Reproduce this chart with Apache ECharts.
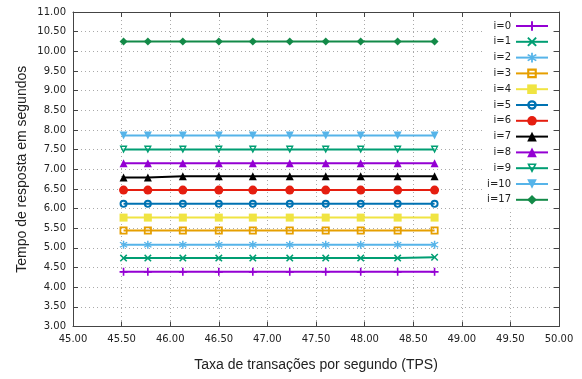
<!DOCTYPE html>
<html><head><meta charset="utf-8">
<script src="https://cdn.jsdelivr.net/npm/echarts@6/dist/echarts.min.js"></script>
<style>html,body{margin:0;padding:0;background:#fff}#c{width:582px;height:379px}</style>
</head><body><div id="c"></div>
<script>
const tps = [45.52, 45.77, 46.13, 46.50, 46.85, 47.23, 47.60, 47.96, 48.34, 48.72];
const seriesNames = ['i=0','i=1','i=2','i=3','i=4','i=5','i=6','i=7','i=8','i=9','i=10','i=17'];
const i0  = [4.39, 4.39, 4.39, 4.39, 4.39, 4.39, 4.39, 4.39, 4.39, 4.39];
const i1  = [4.74, 4.74, 4.74, 4.74, 4.74, 4.74, 4.74, 4.74, 4.74, 4.76];
const i2  = [5.08, 5.08, 5.08, 5.08, 5.08, 5.08, 5.08, 5.08, 5.08, 5.08];
const i3  = [5.44, 5.44, 5.44, 5.44, 5.44, 5.44, 5.44, 5.44, 5.44, 5.44];
const i4  = [5.77, 5.77, 5.77, 5.77, 5.77, 5.77, 5.77, 5.77, 5.77, 5.77];
const i5  = [6.12, 6.12, 6.12, 6.12, 6.12, 6.12, 6.12, 6.12, 6.12, 6.12];
const i6  = [6.47, 6.47, 6.47, 6.47, 6.47, 6.47, 6.47, 6.47, 6.47, 6.47];
const i7  = [6.79, 6.79, 6.82, 6.82, 6.82, 6.82, 6.82, 6.82, 6.82, 6.82];
const i8  = [7.15, 7.15, 7.15, 7.15, 7.15, 7.15, 7.15, 7.15, 7.15, 7.15];
const i9  = [7.50, 7.50, 7.50, 7.50, 7.50, 7.50, 7.50, 7.50, 7.50, 7.50];
const i10 = [7.86, 7.86, 7.86, 7.86, 7.86, 7.86, 7.86, 7.86, 7.86, 7.86];
const i17 = [10.25, 10.25, 10.25, 10.25, 10.25, 10.25, 10.25, 10.25, 10.25, 10.25];
const allValues = [i0, i1, i2, i3, i4, i5, i6, i7, i8, i9, i10, i17];

const colors = ['#9400d3','#009e73','#56b4e9','#e69f00','#f0e442','#0072b2','#e51e10','#000000','#9400d3','#009e73','#56b4e9','#138a48'];
const SYM = {
  plus: 'path://M4,0H6V4H10V6H6V10H4V6H0V4H4Z',
  cross: 'path://M1.4,0L5,3.6L8.6,0L10,1.4L6.4,5L10,8.6L8.6,10L5,6.4L1.4,10L0,8.6L3.6,5L0,1.4Z',
  star: 'path://M4.2,0H5.8V3.1L8.4,1.3L9.3,2.6L6.4,4.3V5.7L9.3,7.4L8.4,8.7L5.8,6.9V10H4.2V6.9L1.6,8.7L0.7,7.4L3.6,5.7V4.3L0.7,2.6L1.6,1.3L4.2,3.1Z',
  openSquare: 'path://M0,0H10V10H0Z M2.2,2.2V7.8H7.8V2.2Z',
  square: 'rect',
  openCircle: 'path://M5,0A5,5 0 1,1 5,10A5,5 0 1,1 5,0Z M5,2.4A2.6,2.6 0 1,0 5,7.6A2.6,2.6 0 1,0 5,2.4Z',
  circle: 'circle',
  triangle: 'triangle',
  openDown: 'path://M0,0H10L5,9Z M2.8,1.6L5,5.6L7.2,1.6Z',
  down: 'path://M0,0H10L5,9Z',
  diamond: 'diamond'
};
const symbols = [SYM.plus, SYM.cross, SYM.star, SYM.openSquare, SYM.square, SYM.openCircle, SYM.circle, SYM.triangle, SYM.triangle, SYM.openDown, SYM.down, SYM.diamond];
const sizes = [8, 7.5, 8, 8, 8, 8, 9, 8, 8, 8, 8, 8];

const chart = echarts.init(document.getElementById('c'), null, {renderer:'canvas'});
const labelFont = {fontFamily:'DejaVu Sans', fontSize:10, color:'#222'};
const axisLineStyle = {color:'#444', width:1};
const series = seriesNames.map((name, k) => ({
  name, type:'line',
  data: tps.map((x, j) => [x, allValues[k][j]]),
  symbol: symbols[k], symbolSize: sizes[k],
  lineStyle:{color:colors[k], width:2},
  itemStyle:{color:colors[k]},
  emphasis:{disabled:true},
  animation:false,
  z: 3
}));

chart.setOption({
  animation:false,
  grid:{left:73, right:23, top:12, bottom:52.5},
  legend:{
    orient:'vertical', align:'right', right:31, top:17,
    itemWidth:32, itemHeight:12, itemGap:5.8,
    padding:[4,2,4,4],
    backgroundColor:'#fff',
    textStyle:{fontFamily:'DejaVu Sans', fontSize:10, color:'#222'},
    data: seriesNames,
    z: 10
  },
  xAxis:[{
    type:'value', min:45, max:50, interval:0.5,
    name:'Taxa de transações por segundo (TPS)', nameLocation:'middle', nameGap:32,
    nameMoveOverlap:false,
    nameTextStyle:{fontFamily:'Liberation Sans', fontSize:14, color:'#222'},
    axisLine:{show:true, lineStyle:axisLineStyle},
    axisTick:{show:true, inside:true, length:5, lineStyle:axisLineStyle},
    axisLabel:Object.assign({margin:8, formatter:v=>v.toFixed(2)}, labelFont),
    splitLine:{show:true, lineStyle:{color:'#aaa', type:[1,3], width:1}}
  },{
    type:'value', position:'top', min:45, max:50, interval:0.5,
    axisLine:{show:true, lineStyle:axisLineStyle},
    axisTick:{show:true, inside:true, length:5, lineStyle:axisLineStyle},
    axisLabel:{show:false}, splitLine:{show:false}
  }],
  yAxis:[{
    type:'value', min:3, max:11, interval:0.5,
    name:'Tempo de resposta em segundos', nameLocation:'middle', nameGap:44,
    nameMoveOverlap:false,
    nameTextStyle:{fontFamily:'Liberation Sans', fontSize:14, color:'#222'},
    axisLine:{show:true, lineStyle:axisLineStyle},
    axisTick:{show:true, inside:true, length:5, lineStyle:axisLineStyle},
    axisLabel:Object.assign({margin:7, formatter:v=>v.toFixed(2)}, labelFont),
    splitLine:{show:true, lineStyle:{color:'#aaa', type:[1,3], width:1}}
  },{
    type:'value', position:'right', min:3, max:11, interval:0.5,
    axisLine:{show:true, lineStyle:axisLineStyle},
    axisTick:{show:true, inside:true, length:5, lineStyle:axisLineStyle},
    axisLabel:{show:false}, splitLine:{show:false}
  }],
  series
});
</script>
</body></html>
